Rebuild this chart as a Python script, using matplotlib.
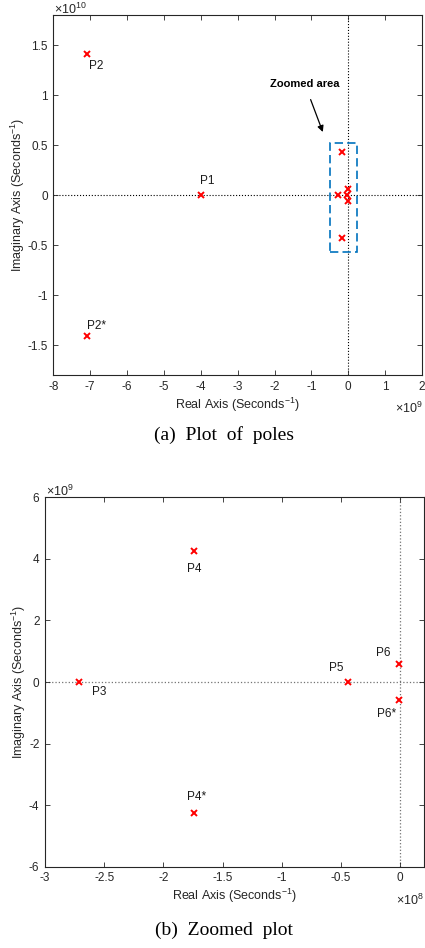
import matplotlib
matplotlib.use("Agg")
import matplotlib.pyplot as plt
from matplotlib.patches import Rectangle
from matplotlib.ticker import FuncFormatter

plt.rcParams['font.family'] = ['Liberation Sans', 'DejaVu Sans']
plt.rcParams['mathtext.fontset'] = 'custom'
plt.rcParams['mathtext.rm'] = 'Liberation Sans'
plt.rcParams['mathtext.it'] = 'Liberation Sans'

# pole locations (real, imaginary) in 1/s
pole_names = ["P1", "P2", "P2*", "P3", "P4", "P4*", "P5", "P6", "P6*"]
pole_re = [-4.0e9, -7.09e9, -7.09e9, -2.71e8, -1.74e8, -1.74e8, -0.445e8, -0.01e8, -0.01e8]
pole_im = [0.0, 1.41e10, -1.41e10, 0.0, 4.27e9, -4.27e9, 0.0, 0.58e9, -0.6e9]

# labels shown in each panel
top_labels = ["P1", "P2", "P2*"]
bottom_labels = ["P3", "P4", "P4*", "P5", "P6", "P6*"]
# label offsets in points
label_offsets = {
    "P1": (5, 10), "P2": (7, -8.6), "P2*": (7, 7.2),
    "P3": (14.4, -7.2), "P4": (0, -13.2), "P4*": (1.4, 11.7),
    "P5": (-8.4, 10), "P6": (-11.3, 8.1), "P6*": (-9.4, -10),
}

# zoomed-area box (real min, real max, imag min, imag max)
zoom_box = (-0.5e9, 0.25e9, -0.567e10, 0.517e10)

W, H = 425, 948
fig = plt.figure(figsize=(W / 100, H / 100), dpi=100)

axis_col = (0.15, 0.15, 0.15)


def style_axes(ax, xscale, yscale, ylab_x):
    ax.tick_params(direction='in', top=True, right=True, length=3.5, width=0.6,
                   labelsize=8.5, colors=axis_col, labelcolor=axis_col, pad=4)
    for s in ax.spines.values():
        s.set_color(axis_col)
        s.set_linewidth(0.8)
    ax.xaxis.set_major_formatter(FuncFormatter(lambda v, p: "%g" % round(v / xscale, 6)))
    ax.yaxis.set_major_formatter(FuncFormatter(lambda v, p: "%g" % round(v / yscale, 6)))
    ax.plot(pole_re, pole_im, 'x', color='red', ms=4.5, mew=1.4, zorder=3)
    ax.set_xlabel("Real Axis (Seconds$^{-1}$)", fontsize=9, color=axis_col, labelpad=2)
    ax.set_ylabel("Imaginary Axis (Seconds$^{-1}$)", fontsize=9, color=axis_col)
    ax.yaxis.set_label_coords(ylab_x, 0.5)
    ax.yaxis.label.set_verticalalignment('center')


def label_poles(ax, names):
    for n in names:
        i = pole_names.index(n)
        ax.annotate(n, (pole_re[i], pole_im[i]), xytext=label_offsets[n],
                    textcoords='offset points', ha='center', va='center',
                    fontsize=8.5, color=(0.1, 0.1, 0.1))


def px_to_fig(x, y):
    return x / W, 1 - y / H


# ---- (a) plot of poles ----
ax1 = fig.add_axes([53.3 / W, 1 - 375 / H, 368.7 / W, 360 / H])
style_axes(ax1, 1e9, 1e10, (18 - 53.3) / 368.7)
ax1.axhline(0, color='k', ls=':', lw=0.8, zorder=1)
ax1.axvline(0, color='k', ls=':', lw=0.8, zorder=1)
ax1.set_xlim(-8e9, 2e9)
ax1.set_ylim(-1.8e10, 1.8e10)
ax1.set_xticks([k * 1e9 for k in range(-8, 3)])
ax1.set_yticks([k * 0.5e10 for k in range(-3, 4)])
label_poles(ax1, top_labels)
x0, x1, y0, y1 = zoom_box
ax1.add_patch(Rectangle((x0, y0), x1 - x0, y1 - y0, fill=False,
                        ec=(0, 0.447, 0.741), lw=1.2, ls=(0, (5, 2.5)), zorder=2))
ax1.annotate("Zoomed area", xy=(-0.69e9, 0.63e10), xytext=(-1.18e9, 1.11e10),
             ha='center', va='center', fontsize=8, fontweight='bold',
             arrowprops=dict(arrowstyle='-|>', color='k', lw=0.9,
                             mutation_scale=9, shrinkA=6, shrinkB=0))

fig.text(*px_to_fig(54, 9), r"$\times$10$^{10}$", fontsize=9, color=axis_col,
         ha='left', va='center')
fig.text(*px_to_fig(423, 408), r"$\times$10$^{9}$", fontsize=9, color=axis_col,
         ha='right', va='center')
fig.text(*px_to_fig(224, 435), "(a)  Plot  of  poles", fontsize=14,
         family=['Liberation Serif', 'DejaVu Serif'], ha='center', va='center')

# ---- (b) zoomed plot ----
ax2 = fig.add_axes([45 / W, 1 - 866.7 / H, 379 / W, 369.4 / H])
style_axes(ax2, 1e8, 1e9, (19 - 45) / 379)
ax2.axhline(0, color='0.45', ls=':', lw=0.9, zorder=1)
ax2.axvline(0, color='0.45', ls=':', lw=0.9, zorder=1)
ax2.set_xlim(-3e8, 0.2e8)
ax2.set_ylim(-6e9, 6e9)
ax2.set_xticks([k * 0.5e8 for k in range(-6, 1)])
ax2.set_yticks([k * 2e9 for k in range(-3, 4)])
label_poles(ax2, bottom_labels)

fig.text(*px_to_fig(46, 491), r"$\times$10$^{9}$", fontsize=9, color=axis_col,
         ha='left', va='center')
fig.text(*px_to_fig(424, 900), r"$\times$10$^{8}$", fontsize=9, color=axis_col,
         ha='right', va='center')
fig.text(*px_to_fig(224, 930), "(b)  Zoomed  plot", fontsize=14,
         family=['Liberation Serif', 'DejaVu Serif'], ha='center', va='center')

fig.savefig("out.png", dpi=100)
